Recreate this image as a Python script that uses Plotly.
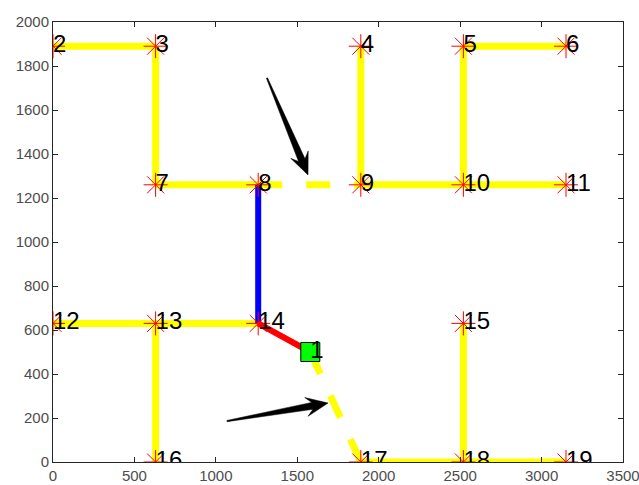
import math
import plotly.graph_objects as go

# Node data
node_ids = [1, 2, 3, 4, 5, 6, 7, 8, 9, 10, 11, 12, 13, 14, 15, 16, 17, 18, 19]
node_x = [1580, 0, 630, 1890, 2520, 3150, 630, 1260, 1890, 2520, 3150, 0, 630, 1260, 2520, 630, 1890, 2520, 3150]
node_y = [500, 1890, 1890, 1890, 1890, 1890, 1260, 1260, 1260, 1260, 1260, 630, 630, 630, 630, 0, 0, 0, 0]

# Edges (by node id)
solid_edges = [(2, 3), (3, 7), (7, 8), (4, 9), (9, 10), (10, 11), (5, 6), (5, 10),
               (12, 13), (13, 14), (13, 16), (15, 18), (17, 18), (18, 19)]
dashed_edges = [(8, 9), (1, 17)]
blue_edges = [(8, 14)]
red_edges = [(14, 1)]

# Arrows: tail and head positions in data units
arrow_tail_x = [1314, 1068]
arrow_tail_y = [1745, 186]
arrow_head_x = [1566, 1689]
arrow_head_y = [1305, 268]

x_ticks = [0, 500, 1000, 1500, 2000, 2500, 3000, 3500]
y_ticks = [0, 200, 400, 600, 800, 1000, 1200, 1400, 1600, 1800, 2000]
X_RANGE = [0, 3500]
Y_RANGE = [0, 2000]

W, H = 639, 485
ML, MR, MT, MB = 53, 16, 22, 23
plot_w = W - ML - MR
plot_h = H - MT - MB

pos = {i: (x, y) for i, x, y in zip(node_ids, node_x, node_y)}

fig = go.Figure()

def add_edges(edges, color, dash=None, width=7):
    for a, b in edges:
        fig.add_trace(go.Scatter(
            x=[pos[a][0], pos[b][0]], y=[pos[a][1], pos[b][1]],
            mode="lines", line=dict(color=color, width=width, dash=dash),
            hoverinfo="skip", showlegend=False))

add_edges(solid_edges, "#ffff00")
add_edges(dashed_edges, "#ffff00", dash="24px,24px")
add_edges(blue_edges, "#0000ff", width=6)
add_edges(red_edges, "#ff0000", width=6)

# star markers (all nodes except 1)
sx = [pos[i][0] for i in node_ids if i != 1]
sy = [pos[i][1] for i in node_ids if i != 1]
fig.add_trace(go.Scatter(
    x=sx, y=sy, mode="markers",
    marker=dict(symbol="asterisk-open", size=20, color="#ff0000",
                line=dict(color="#ff0000", width=1)),
    hoverinfo="skip", showlegend=False))

# green square for node 1
fig.add_trace(go.Scatter(
    x=[pos[1][0]], y=[pos[1][1]], mode="markers",
    marker=dict(symbol="square", size=19, color="#00ff00", line=dict(color="#000000", width=1)),
    hoverinfo="skip", showlegend=False))

# labels
fig.add_trace(go.Scatter(
    x=node_x, y=node_y, mode="text", text=[str(i) for i in node_ids],
    textposition="middle right",
    textfont=dict(family="Liberation Sans, Arial", size=24, color="#000000"),
    hoverinfo="skip", showlegend=False))

# arrows as filled wedge shapes (pixel-sized, anchored at the head)
sxp = plot_w / (X_RANGE[1] - X_RANGE[0])
syp = plot_h / (Y_RANGE[1] - Y_RANGE[0])
HEAD_L, HEAD_W, NOTCH_L, SHAFT_W, TAIL_W = 22, 19, 16, 7, 1.2
for tx, ty, hx, hy in zip(arrow_tail_x, arrow_tail_y, arrow_head_x, arrow_head_y):
    dx = (hx - tx) * sxp
    dy = (hy - ty) * syp  # upward positive
    length = math.hypot(dx, dy)
    ux, uy = dx / length, dy / length
    px, py = -uy, ux
    def pt(back, side):
        return (-back * ux + side * px, -back * uy + side * py)
    pts = [pt(0, 0), pt(HEAD_L, HEAD_W / 2), pt(NOTCH_L, SHAFT_W / 2),
           pt(length, TAIL_W / 2), pt(length, -TAIL_W / 2),
           pt(NOTCH_L, -SHAFT_W / 2), pt(HEAD_L, -HEAD_W / 2)]
    path = "M " + " L ".join(f"{a:.2f},{b:.2f}" for a, b in pts) + " Z"
    fig.add_shape(type="path", xref="x", yref="y", xsizemode="pixel", ysizemode="pixel",
                  xanchor=hx, yanchor=hy, path=path,
                  fillcolor="#000000", line=dict(color="#000000", width=0.5), layer="above")

axis_common = dict(showgrid=False, zeroline=False, showline=True, linecolor="#262626",
                   linewidth=1, mirror="ticks", ticks="inside", ticklen=5, automargin=False,
                   tickcolor="#262626", ticklabeloverflow="allow",
                   tickfont=dict(family="Liberation Sans, Arial", size=15, color="#4d4d4d"))

fig.update_xaxes(range=X_RANGE, tickvals=x_ticks, **axis_common)
fig.update_yaxes(range=Y_RANGE, tickvals=y_ticks, **axis_common)

fig.update_layout(width=W, height=H, margin=dict(l=ML, r=MR, t=MT, b=MB, pad=0),
                  plot_bgcolor="white", paper_bgcolor="white")

fig.write_html("out.html", config={"displayModeBar": False},
               post_script="document.body.style.margin='0';document.body.style.overflow='hidden';")
